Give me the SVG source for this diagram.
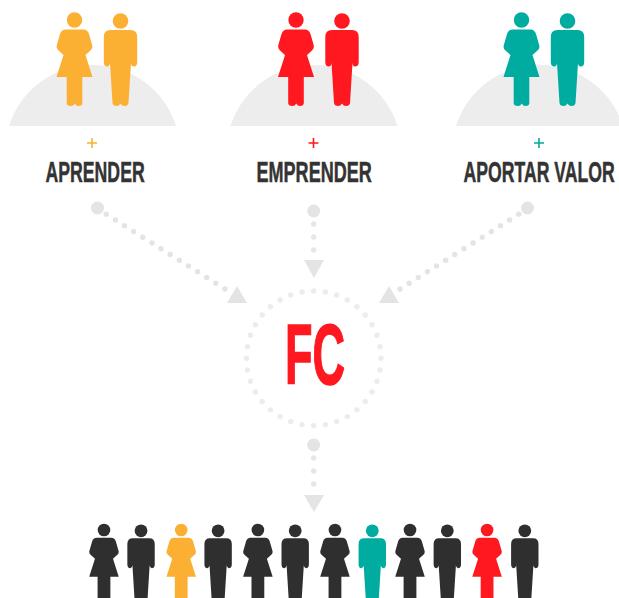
<svg xmlns="http://www.w3.org/2000/svg" width="619" height="598" viewBox="0 0 619 598">
<style>
.hill{fill:#ededed}
.tri,.big{fill:#e4e4e4}
.dot{fill:#e6e6e6}
.dots{fill:none;stroke:#e4e4e4;stroke-width:5.4;stroke-linecap:round;stroke-dasharray:0 10.8}
.ring{fill:none;stroke:#ececec;stroke-width:5.4;stroke-linecap:round}
.plus{fill:none;stroke-width:1.6}
.lab{font-family:"Liberation Sans",Arial,sans-serif;font-weight:700;font-size:29px;fill:#333;stroke:#333;stroke-width:.5}
.fc{font-family:"Liberation Sans",Arial,sans-serif;font-weight:700;font-size:85px;fill:#ff1820;stroke:#ff1820;stroke-width:1.500}
.o{fill:#fbb034}.r{fill:#ff1820}.t{fill:#00ab9f}.k{fill:#2f2f2f}
</style>
<defs>
<g id="woman">
<circle cx="0" cy="20" r="7.700"/>
<path d="M-9,29.500 H9 Q13,29.500 14.500,34 L17.800,45.500 Q18.500,48.500 16,50.500 L11,55 L18,77 H7.800 V103 Q7.800,106 4,106 Q1.500,106 0.300,103.500 Q-1,106 -3.500,106 Q-7.800,106 -7.800,103 V77 H-18 L-11,55 L-16,50.500 Q-18.500,48.500 -17.800,45.500 L-14.500,34 Q-13,29.500 -9,29.500Z"/>
</g>
<g id="man">
<circle cx="0" cy="21" r="7.800"/>
<path d="M-10,30 H10 Q16.700,30 16.700,37 V62 Q16.700,66.500 13,66.500 Q10.800,66.500 10.500,63 L8,103 Q7.500,106 4,106 Q1.500,106 0,103.500 Q-1.500,106 -4,106 Q-7.500,106 -8,103 L-10.500,63 Q-10.800,66.500 -13,66.500 Q-16.700,66.500 -16.700,62 V37 Q-16.700,30 -10,30Z"/>
</g>
</defs>
<g id="connectors">
<circle class="big" cx="97.500" cy="208" r="6.500"/>
<path class="dots" d="M225,289 L106,214"/>
<path class="tri" d="M227,303 H247 L237,286Z"/>
<circle class="big" cx="313.700" cy="211" r="6.500"/>
<circle class="dot" cx="313.700" cy="224" r="2.700"/>
<circle class="dot" cx="313.700" cy="237" r="2.700"/>
<circle class="dot" cx="313.700" cy="250" r="2.700"/>
<path class="tri" d="M304,260 H324 L314,278Z"/>
<circle class="big" cx="527.500" cy="208" r="6.500"/>
<path class="dots" d="M400,289 L519,214"/>
<path class="tri" d="M379,303 H399 L389,286Z"/>
<circle class="big" cx="313.700" cy="445" r="6.500"/>
<circle class="dot" cx="313.700" cy="458" r="2.700"/>
<circle class="dot" cx="313.700" cy="471" r="2.700"/>
<circle class="dot" cx="313.700" cy="484" r="2.700"/>
<path class="tri" d="M304,495 H324 L314,512Z"/>
</g>
<g id="node-aprender">
<path class="hill" d="M9,126 A87.600,87.600 0 0 1 176,126Z"/>
<use href="#woman" x="74.500" class="o"/><use href="#man" x="120.500" class="o"/>
<path class="plus" stroke="#fbb034" d="M87,143 H97 M92,138 V148"/>
<text class="lab" transform="translate(45.500 182) scale(.62 1)" x="0" y="0" textLength="160" lengthAdjust="spacingAndGlyphs">APRENDER</text>
</g>
<g id="node-emprender">
<path class="hill" d="M230.500,126 A87.600,87.600 0 0 1 397.500,126Z"/>
<use href="#woman" x="296" class="r"/><use href="#man" x="342" class="r"/>
<path class="plus" stroke="#ff1820" d="M308.500,143 H318.500 M313.500,138 V148"/>
<text class="lab" transform="translate(256.500 182) scale(.62 1)" x="0" y="0" textLength="186" lengthAdjust="spacingAndGlyphs">EMPRENDER</text>
</g>
<g id="node-aportar">
<path class="hill" d="M456,126 A87.600,87.600 0 0 1 623,126Z"/>
<use href="#woman" x="521.500" class="t"/><use href="#man" x="567.500" class="t"/>
<path class="plus" stroke="#00ab9f" d="M534,143 H544 M539,138 V148"/>
<text class="lab" transform="translate(463.500 182) scale(.62 1)" x="0" y="0" textLength="244" lengthAdjust="spacingAndGlyphs">APORTAR VALOR</text>
</g>
<g id="node-fc">
<circle class="ring" cx="313.700" cy="358.300" r="67.300" pathLength="36" stroke-dasharray="0 1" transform="rotate(-90 313.700 358.300)"/>
<text class="fc" x="285" y="384" textLength="60" lengthAdjust="spacingAndGlyphs">FC</text>
</g>
<g id="node-people">
<g transform="translate(0 513.600) scale(.82)">
<use href="#woman" x="126.800" class="k"/>
<use href="#man" x="172" class="k"/>
<use href="#woman" x="221" class="o"/>
<use href="#man" x="266" class="k"/>
<use href="#woman" x="314.500" class="k"/>
<use href="#man" x="360" class="k"/>
<use href="#woman" x="408.500" class="k"/>
<use href="#man" x="454" class="t"/>
<use href="#woman" x="500" class="k"/>
<use href="#man" x="545.500" class="k"/>
<use href="#woman" x="594" class="r"/>
<use href="#man" x="640" class="k"/>
</g>
</g>
</svg>
